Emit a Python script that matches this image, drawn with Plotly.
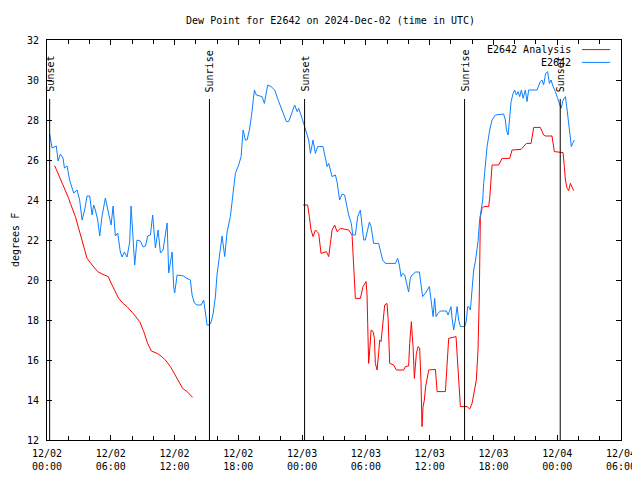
import plotly.graph_objects as go
import pandas as pd

start = pd.Timestamp("2024-12-02 00:00")

# E2642 observed dew point (hours since 2024-12-02 00:00 UTC, degrees F)
obs_hours = [0.25, 0.37, 0.48, 0.88, 1.04, 1.26, 1.51, 1.64, 1.89, 2.13, 2.42, 2.51, 2.83, 3.07, 3.30, 3.54,
             3.77, 4.02, 4.24, 4.39, 4.55, 4.77, 4.96, 5.18, 5.49, 5.80, 6.03, 6.22, 6.43, 6.65, 6.90, 7.06,
             7.28, 7.53, 7.78, 7.91, 8.10, 8.25, 8.47, 8.78, 9.04, 9.26, 9.47, 9.73, 9.94, 10.20, 10.45, 10.67,
             10.92, 11.20, 11.30, 11.45, 11.61, 11.77, 11.92, 12.01, 12.24, 12.86, 13.08, 13.49, 13.65, 13.86,
             14.12, 14.50, 14.74, 14.90, 15.06, 15.28, 15.44, 15.62, 15.84, 16.00, 16.15, 16.31, 16.47, 16.72,
             16.94, 17.25, 17.51, 17.72, 18.03, 18.26, 18.45, 18.66, 18.82, 19.04, 19.23, 19.39, 19.51, 19.70,
             20.23, 20.45, 20.76, 21.08, 21.42, 21.80, 22.12, 22.52, 22.74, 23.06, 23.30, 23.53, 23.68, 24.00,
             24.31, 24.62, 24.78, 25.03, 25.25, 25.46, 25.97, 26.19, 26.35, 26.50, 26.82, 27.13, 27.29, 27.53,
             27.76, 28.00, 28.16, 28.38, 28.63, 28.76, 29.01, 29.23, 29.48, 29.64, 29.79, 29.95, 30.17, 30.33,
             30.49, 30.73, 31.20, 31.36, 31.58, 31.83, 32.77, 32.99, 33.15, 33.31, 33.46, 33.65, 33.81, 34.02,
             34.18, 34.34, 34.50, 34.65, 35.03, 35.19, 35.34, 35.59, 35.81, 35.97, 36.13, 36.32, 36.47, 36.60,
             36.79, 37.01, 37.57, 37.73, 37.85, 38.01, 38.11, 38.26, 38.42, 38.58, 38.73, 38.89, 39.27, 39.43,
             39.58, 39.67, 39.83, 39.99, 40.14, 40.30, 40.39, 40.55, 40.70, 40.83, 40.99, 41.08, 41.24, 41.40,
             41.65, 41.87, 42.18, 42.96, 43.12, 43.22, 43.38, 43.50, 43.66, 43.85, 44.00, 44.16, 44.32, 44.47,
             44.63, 44.79, 45.00, 45.16, 45.31, 46.10, 46.41, 46.57, 46.72, 46.91, 47.10, 47.26, 47.42, 47.61,
             47.83, 48.04, 48.23, 48.36, 48.55, 48.77, 48.93, 49.08, 49.24, 49.33, 49.45, 49.61]
obs_values = [27.3, 26.8, 26.6, 26.7, 25.95, 26.3, 26.1, 25.6, 25.7, 25.0, 24.5, 24.35, 24.5, 24.0, 23.0, 23.5,
              24.2, 24.2, 23.25, 23.75, 23.5, 23.0, 22.2, 23.2, 24.1, 23.35, 22.75, 23.7, 22.2, 22.35, 21.4, 21.15,
              21.4, 21.15, 21.9, 23.7, 22.0, 20.75, 22.0, 21.95, 21.65, 21.7, 22.2, 22.25, 23.25, 21.6, 22.5, 21.35,
              21.5, 22.5, 22.85, 20.35, 20.85, 21.4, 19.65, 19.35, 20.25, 20.2, 20.1, 20.0, 19.25, 18.85,
              18.75, 18.75, 19.0, 18.4, 17.75, 17.75, 17.9, 18.3, 19.15, 20.3, 21.0, 21.67, 22.2, 21.17,
              22.4, 23.17, 24.33, 25.33, 25.75, 26.17, 27.5, 27.0, 27.0, 27.5, 28.17, 28.9, 29.5, 29.25,
              29.17, 28.83, 29.75, 29.67, 29.5, 28.92, 28.5, 27.92, 27.92, 28.42, 28.75, 28.42, 28.58, 28.08,
              27.58, 27.0, 26.33, 27.0, 26.33, 26.67, 26.67, 26.17, 25.67, 25.83, 25.17, 25.25, 24.9, 24.0,
              24.3, 24.25, 23.75, 23.25, 22.83, 22.25, 22.25, 23.17, 23.5, 22.83, 22.0, 22.0, 22.58, 22.9,
              22.67, 21.83, 21.83, 21.5, 21.0, 20.83, 20.83, 21.08, 20.75, 20.17, 20.33, 20.25, 19.9, 19.4,
              20.1, 20.25, 20.3, 20.4, 20.4, 19.83, 19.17, 19.33, 19.5, 19.67, 19.0, 18.17, 19.08, 18.17,
              18.33, 18.45, 18.45, 18.25, 18.42, 18.67, 18.08, 17.5, 18.0, 18.67, 18.0, 17.67, 17.67, 17.9,
              18.67, 18.67, 18.5, 19.83, 20.5, 20.92, 21.33, 21.92, 23.0, 23.58, 24.0, 24.83, 25.83, 26.67,
              27.5, 28.0, 28.25, 28.3, 28.0, 27.5, 27.25, 28.0, 28.92, 29.33, 29.5, 29.25, 29.42, 29.17,
              29.5, 29.08, 29.5, 28.92, 29.5, 29.5, 29.92, 30.0, 29.75, 30.33, 30.42, 29.83, 30.0, 29.67,
              29.42, 29.08, 28.83, 28.58, 29.0, 29.17, 28.5, 27.67, 27.0, 26.67, 26.83, 27.0]

# E2642 Analysis dew point (gap = None)
ana_hours = [0.72, 1.73, 2.04, 2.20, 2.67, 2.98, 3.30, 3.52, 3.77, 4.24, 4.77, 5.18, 5.75, 6.12, 6.43, 6.74,
             7.16, 7.53, 8.15, 8.72, 9.10, 9.47, 9.82, 10.36, 10.73, 11.14, 11.61, 11.98, 12.39, 12.76, 13.18,
             13.42, 13.70,
             None,
             24.09, 24.52, 24.68, 24.84, 25.03, 25.25, 25.56, 25.78, 26.28, 26.50, 26.66, 26.82, 27.06, 27.29,
             27.60, 28.38, 28.70, 28.85, 29.01, 29.48, 29.73, 30.02, 30.11, 30.17, 30.26, 30.36, 30.49, 30.68,
             30.80, 30.89, 31.05, 31.20, 31.30, 31.43, 31.52, 31.77, 31.99, 32.09, 32.24, 32.61, 32.87, 33.55,
             33.71, 34.02, 34.12, 34.28, 34.37, 34.44, 34.56, 34.66, 34.75, 34.91, 35.06, 35.19, 35.28, 35.38,
             35.50, 35.62, 35.76, 35.91, 36.54, 36.70, 37.48, 37.64, 37.79, 38.48, 38.67, 38.89, 39.52, 39.76,
             39.99, 40.20, 40.39, 40.55, 40.67, 40.77, 40.93, 41.08, 41.55, 41.65, 41.78, 41.87, 42.49, 42.72,
             42.81, 43.53, 43.75, 44.60, 45.10, 45.54, 45.64, 45.79, 46.41, 46.72, 46.88, 47.51, 47.73, 48.55,
             48.67, 48.77, 48.93, 49.08, 49.24, 49.40, 49.55]
ana_values = [25.72, 24.5, 24.08, 23.83, 23.17, 22.58, 21.92, 21.5, 21.08, 20.75, 20.42, 20.3, 20.17, 19.75, 19.42, 19.08,
              18.83, 18.67, 18.3, 17.92, 17.42, 16.83, 16.45, 16.33, 16.2, 16.0, 15.67, 15.33, 14.92, 14.58, 14.42,
              14.3, 14.13,
              None,
              23.75, 23.75, 23.17, 22.5, 22.17, 22.5, 22.33, 21.33, 21.42, 21.17, 21.83, 22.5, 22.75, 22.42,
              22.58, 22.5, 22.25, 20.58, 19.08, 19.08, 19.67, 19.92, 19.25, 17.83, 15.83, 16.5, 17.5, 17.42,
              17.08, 15.83, 15.5, 16.33, 17.0, 16.92, 17.5, 18.75, 18.83, 18.08, 15.83, 15.75, 15.5, 15.5,
              15.67, 15.7, 16.83, 17.92, 17.17, 16.67, 15.08, 15.67, 16.33, 16.67, 16.6, 14.83, 12.67, 13.67,
              14.0, 14.67, 15.0, 15.5, 15.53, 14.42, 14.42, 15.75, 17.08, 17.17, 15.42, 13.67, 13.67, 13.55,
              13.83, 14.5, 15.0, 16.5, 19.25, 23.17, 23.58, 23.67, 23.67, 24.08, 25.42, 25.75, 25.75, 26.03,
              26.08, 26.08, 26.5, 26.53, 26.83, 26.83, 27.17, 27.63, 27.63, 27.25, 27.2, 27.2, 26.42, 26.37,
              25.67, 25.0, 24.58, 24.47, 24.83, 24.67, 24.47]

event_labels = ["Sunset", "Sunrise", "Sunset", "Sunrise", "Sunset"]
event_times = ["2024-12-02 00:15", "2024-12-02 15:17", "2024-12-03 00:14", "2024-12-03 15:17", "2024-12-04 00:17"]

series_names = ["E2642 Analysis", "E2642"]
series_colors = ["#ff0000", "#0a80ff"]

FONT = "DejaVu Sans Mono"


def to_time(hours):
    return [None if h is None else start + pd.Timedelta(hours=h) for h in hours]


fig = go.Figure()
fig.add_trace(go.Scatter(x=to_time(ana_hours), y=ana_values, mode="lines", name=series_names[0],
                         line=dict(color=series_colors[0], width=1), connectgaps=False))
fig.add_trace(go.Scatter(x=to_time(obs_hours), y=obs_values, mode="lines", name=series_names[1],
                         line=dict(color=series_colors[1], width=1)))

shapes = []
annotations = []
for lab, t in zip(event_labels, event_times):
    shapes.append(dict(type="line", xref="x", yref="y", x0=t, x1=t, y0=12, y1=29.05,
                       line=dict(color="black", width=1)))
    annotations.append(dict(x=t, y=29.35, xref="x", yref="y", text=lab, textangle=-90,
                            showarrow=False, xanchor="center", yanchor="bottom",
                            font=dict(family=FONT, size=10, color="black"), borderpad=0))

# legend (gnuplot style: text then line sample)
leg_y = [0.976, 0.944]
for name, col, yy in zip(series_names, series_colors, leg_y):
    annotations.append(dict(x=0.916, y=yy, xref="paper", yref="paper", text=name, showarrow=False,
                            xanchor="right", yanchor="middle",
                            font=dict(family=FONT, size=10, color="black")))
    shapes.append(dict(type="line", xref="paper", yref="paper", x0=0.932, x1=0.981, y0=yy, y1=yy,
                       line=dict(color=col, width=1)))

annotations.append(dict(x=-0.0557, y=0.5, xref="paper", yref="paper", text="degrees F", textangle=-90,
                        showarrow=False, xanchor="center", yanchor="middle",
                        font=dict(family=FONT, size=10, color="black")))

fig.update_layout(
    width=640, height=480,
    margin=dict(l=39, r=27, t=32, b=48),
    paper_bgcolor="white", plot_bgcolor="white",
    showlegend=False,
    font=dict(family=FONT, size=10, color="black"),
    title=dict(text="Dew Point for E2642 on 2024-Dec-02 (time in UTC)", x=0.504, xanchor="center",
               y=0.9735, yanchor="middle", font=dict(family=FONT, size=10, color="black")),
    shapes=shapes,
    annotations=annotations,
    xaxis=dict(type="date", range=["2024-12-02 00:00", "2024-12-04 06:00"],
               dtick=6 * 3600 * 1000, tick0="2024-12-02 00:00", tickformat="%m/%d<br>%H:%M",
               showgrid=False, zeroline=False, showline=True, linecolor="black", linewidth=1,
               mirror="ticks", ticks="inside", ticklen=5, tickcolor="black", tickwidth=1,
               ticklabelstandoff=4,
               minor=dict(dtick=2 * 3600 * 1000, ticks="inside", ticklen=4, tickcolor="black", showgrid=False),
               tickfont=dict(family=FONT, size=10, color="black")),
    yaxis=dict(range=[12, 32], dtick=2, tick0=12,
               showgrid=False, zeroline=False, showline=True, linecolor="black", linewidth=1,
               mirror="ticks", ticks="inside", ticklen=5, tickcolor="black", tickwidth=1,
               ticklabelstandoff=5,
               tickfont=dict(family=FONT, size=10, color="black")),
)

fig.write_html("out.html", config={"displayModeBar": False})
